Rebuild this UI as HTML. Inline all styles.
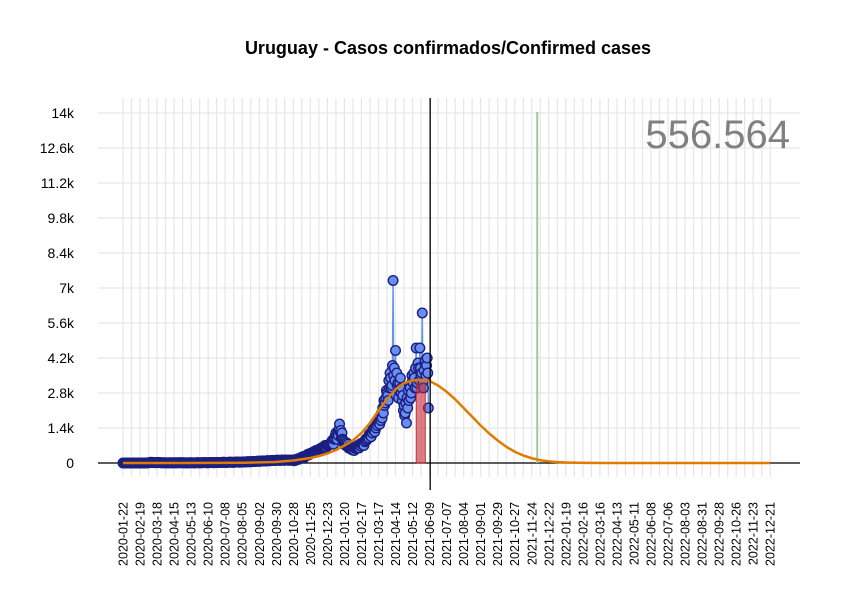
<!DOCTYPE html>
<html><head><meta charset="utf-8"><style>
body{margin:0;background:#fff}
svg{display:block;font-family:"Liberation Sans",sans-serif}
</style></head><body>
<svg id="c" width="850" height="600"></svg>
<script>
const yTicks=[0,1400,2800,4200,5600,7000,8400,9800,11200,12600,14000];
const yTickLabels=["0","1.4k","2.8k","4.2k","5.6k","7k","8.4k","9.8k","11.2k","12.6k","14k"];
const startDate="2020-01-22";
const labelStepDays=28;
const labelCount=39;
const earlyStart=0;
const earlyStep=2;
const earlyVals=[0,0,0,0,0,0,0,0,0,0,0,0,0,0,0,0,0,0,0,0,
5,10,20,30,25,15,20,10,15,25,20,10,8,10,12,8,5,6,10,8,5,10,12,8,6,10,15,10,8,12,
10,8,6,5,8,10,12,9,7,6,10,14,12,9,8,11,15,18,14,10,12,16,20,18,15,12,18,22,25,20,
18,22,28,30,25,20,24,30,35,32,28,25,30,38,40,35,30,34,40,45,
40,45,50,55,48,52,60,65,58,62,70,75,68,72,80,85,78,82,90,95,
88,92,100,105,98,102,110,115,108,100,112,118,105,110,120,115,108,112,118,110];
const evenStart=280;
const oddStart=281;
const denseStep=2;
const evenVals=[100,120,110,150,170,160,200,230,250,220,280,300,350,330,380,400,420,450,480,500,470,520,560,600,580,650,700,620,680,720,760,
800,900,750,1000,1200,950,1100,1560,1300,1200,900,850,700,800,750,650,
600,550,620,500,580,650,700,600,680,750,800,700,850,900,
950,1000,1100,1050,1200,1300,1250,1400,1500,1600,1550,1700,1800,2000,2300,
2600,2800,2500,3000,3400,3100,7300,3800,4500,3600,3200,2900,3400,
3000,2700,2300,2000,1600,2200,2500,3000,2800,
3300,3600,3000,4600,3200,3800,4600,3500,6000,3000,4000,3500,4200,2200];
const oddVals=[90,130,140,160,150,190,210,240,260,270,290,320,340,370,390,410,440,430,490,510,530,540,580,590,620,660,690,710,700,740,
780,850,880,950,1100,1050,1200,1350,1250,1000,950,800,780,720,700,600,
580,600,520,560,600,620,680,640,700,780,760,820,880,950,
980,1050,1150,1100,1250,1350,1300,1450,1600,1700,1650,1800,2000,2200,2500,
2400,2900,2700,3300,3600,3000,3900,3500,3300,2700,3100,2600,3200,
2800,2500,2100,1900,2400,2600,2900,3100,2600,
3500,3200,3400,3800,3000,4000,3300,3800,3600,3200,3700,4100,3900,3600];
const fitDays=[0,100,200,250,280,294,308,322,336,350,364,378,392,406,420,434,448,462,476,490,504,518,532,546,560,574,588,602,616,630,644,658,672,686,700,714,728,760,800,900,1064];
const fitVals=[0,2,10,40,100,150,200,280,380,520,700,900,1200,1600,2100,2550,2950,3200,3300,3330,3280,3100,2850,2550,2200,1850,1500,1180,900,650,450,300,190,110,65,35,18,6,2,0,0];
const barStartDay=482, barEndDay=497, barValue=3200;
const todayDay=505, greenDay=681;
const totalCases="556.564";

const NS="http://www.w3.org/2000/svg";
const svg=document.getElementById('c');
const X=d=>123+d*0.6083;
const Y=v=>463-v*0.025;
function el(t,a,p){const e=document.createElementNS(NS,t);for(const k in a)e.setAttribute(k,a[k]);(p||svg).appendChild(e);return e;}

let t=el('text',{x:448,y:54,'text-anchor':'middle','font-size':18,'font-weight':'bold',fill:'#000'});


t.textContent="Uruguay - Casos confirmados/Confirmed cases";

const grid=el('g',{});


for(let d=0;d<=labelStepDays*(labelCount-1);d+=14){
  el('line',{x1:X(d),x2:X(d),y1:98,y2:477,stroke:'#e6e6e6','stroke-width':1.2},grid);
}
yTicks.forEach(v=>el('line',{x1:98,x2:800,y1:Y(v),y2:Y(v),stroke:'#e6e6e6','stroke-width':1.2},grid));

const yl=el('g',{});


yTicks.forEach((v,i)=>{const e=el('text',{x:74,y:Y(v)+5,'text-anchor':'end','font-size':14,fill:'#000'},yl);e.textContent=yTickLabels[i];});

const xl=el('g',{});


const sd=new Date(startDate+"T00:00:00Z");
for(let i=0;i<labelCount;i++){
  const d=i*labelStepDays;const dt=new Date(sd.getTime()+d*86400000);
  const s=dt.toISOString().slice(0,10);
  const x=X(d)+4.5;
  const e=el('text',{x:x,y:502,'text-anchor':'end','font-size':12.5,fill:'#000',transform:`rotate(-90 ${x} 502)`},xl);
  e.textContent=s;
}

const ax=el('line',{x1:98,x2:800,y1:463,y2:463,stroke:'#000','stroke-width':1.2});



const gl=el('line',{x1:X(greenDay),x2:X(greenDay),y1:112,y2:463,stroke:'#9cc79c','stroke-width':2});



const pts=[];
earlyVals.forEach((v,i)=>pts.push([earlyStart+i*earlyStep,v]));
evenVals.forEach((v,i)=>pts.push([evenStart+i*denseStep,v]));
oddVals.forEach((v,i)=>pts.push([oddStart+i*denseStep,v]));
pts.sort((a,b)=>a[0]-b[0]);

const pl=el('polyline',{points:pts.map(p=>X(p[0])+','+Y(p[1])).join(' '),fill:'none',stroke:'#6495ed','stroke-width':1.5});


const pg=el('g',{});


pts.forEach(p=>{
  const c=el('circle',{cx:X(p[0]),cy:Y(p[1]),r:4.8,fill:'#6a8df0',stroke:'#1a1f80','stroke-width':1.4},pg);
  
  
});

const rb=el('rect',{x:X(barStartDay),y:Y(barValue),width:X(barEndDay)-X(barStartDay),height:Y(0)-Y(barValue),fill:'rgba(200,40,50,0.6)',stroke:'rgba(170,30,40,0.8)','stroke-width':1});



const fc=el('polyline',{points:fitDays.map((d,i)=>X(d)+','+Y(fitVals[i])).join(' '),fill:'none',stroke:'#e07b00','stroke-width':2.5,'stroke-linejoin':'round'});



const tl=el('line',{x1:X(todayDay),x2:X(todayDay),y1:98,y2:490,stroke:'#000','stroke-width':1.3});



const tt=el('text',{x:790,y:148,'text-anchor':'end','font-size':40,fill:'#808080'});


tt.textContent=totalCases;
</script>
</body></html>
